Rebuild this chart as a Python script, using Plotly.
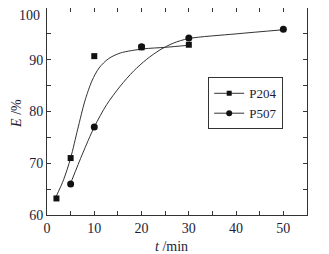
import plotly.graph_objects as go

# measured points
t_p204 = [2, 5, 10, 20, 30]
e_p204 = [63.2, 71.0, 90.7, 92.4, 92.9]
t_p507 = [5, 10, 20, 30, 50]
e_p507 = [66.0, 77.0, 92.5, 94.2, 95.9]

# fitted curves
fit_t_p204 = [1.9, 3.5, 5.0, 6.5, 8.0, 9.5, 11.0, 13.0, 15.5, 20.4, 25, 30]
fit_e_p204 = [63.5, 66.8, 71.0, 76.6, 82.0, 85.9, 88.4, 90.2, 91.3, 92.1, 92.4, 92.8]
fit_t_p507 = [5.2, 7.5, 10, 12.6, 15.5, 18.3, 21.1, 23.9, 26.7, 30, 40, 50]
fit_e_p507 = [66.6, 71.8, 77.0, 81.3, 84.9, 87.8, 90.1, 91.9, 93.2, 94.1, 95.0, 95.8]

x_ticks = [0, 10, 20, 30, 40, 50]
y_ticks = [60, 70, 80, 90, 100]
y_ticktext = ["60", "70", "80", "90", ""]
y_top_label = "100"
x_title = "<i>t</i> /min"
y_title = "<i>E</i> /%"

line_col = "#333333"
text_col = "#1c1c38"
font_fam = "Liberation Serif"

fig = go.Figure()
fig.add_trace(go.Scatter(x=fit_t_p204, y=fit_e_p204, mode="lines", line=dict(color=line_col, width=1, shape="spline", smoothing=0.8), showlegend=False, hoverinfo="skip"))
fig.add_trace(go.Scatter(x=fit_t_p507, y=fit_e_p507, mode="lines", line=dict(color=line_col, width=1, shape="spline", smoothing=0.8), showlegend=False, hoverinfo="skip"))
fig.add_trace(go.Scatter(x=t_p204, y=e_p204, mode="markers", showlegend=False,
                         marker=dict(symbol="square", size=6, color="#111111")))
fig.add_trace(go.Scatter(x=t_p507, y=e_p507, mode="markers", showlegend=False,
                         marker=dict(symbol="circle", size=7, color="#111111")))
# legend entries
fig.add_trace(go.Scatter(x=[None], y=[None], mode="markers+lines", name="P204",
                         line=dict(color=line_col, width=1),
                         marker=dict(symbol="square", size=5, color="#111111")))
fig.add_trace(go.Scatter(x=[None], y=[None], mode="markers+lines", name="P507",
                         line=dict(color=line_col, width=1),
                         marker=dict(symbol="circle", size=6, color="#111111")))

axis_common = dict(showline=True, linecolor=line_col, linewidth=1, mirror="allticks",
                   ticks="inside", ticklen=4, tickcolor=line_col, showgrid=False, zeroline=False,
                   automargin=False,
                   tickfont=dict(family=font_fam, size=14, color=text_col))

fig.update_xaxes(range=[0, 55], tickvals=x_ticks,
                 minor=dict(dtick=5, tick0=0, ticks="inside", ticklen=4, tickcolor=line_col),
                 **axis_common)
fig.update_yaxes(range=[60, 100], tickvals=y_ticks, ticktext=y_ticktext,
                 minor=dict(dtick=5, tick0=60, ticks="inside", ticklen=4, tickcolor=line_col),
                 **axis_common)

fig.add_annotation(text=y_top_label, xref="paper", yref="paper", x=0, y=1,
                   xanchor="right", yanchor="top", xshift=-5, yshift=2, showarrow=False,
                   font=dict(family=font_fam, size=14, color=text_col))
fig.add_annotation(text=x_title, xref="paper", yref="paper", x=0.48, y=-0.15,
                   xanchor="center", yanchor="middle", showarrow=False,
                   font=dict(family=font_fam, size=14, color=text_col))
fig.add_annotation(text=y_title, xref="paper", yref="paper", x=-0.118, y=0.49,
                   xanchor="center", yanchor="middle", showarrow=False, textangle=-90,
                   font=dict(family=font_fam, size=14, color=text_col))

fig.update_layout(
    width=321, height=246,
    margin=dict(l=39, r=22, t=0, b=39),
    paper_bgcolor="white", plot_bgcolor="white",
    legend=dict(x=0.62, y=0.665, xanchor="left", yanchor="top",
                bordercolor=line_col, borderwidth=1, bgcolor="white",
                font=dict(family=font_fam, size=13, color=text_col),
                tracegroupgap=0, itemwidth=30),
    showlegend=True,
)

fig.write_html("out.html")
